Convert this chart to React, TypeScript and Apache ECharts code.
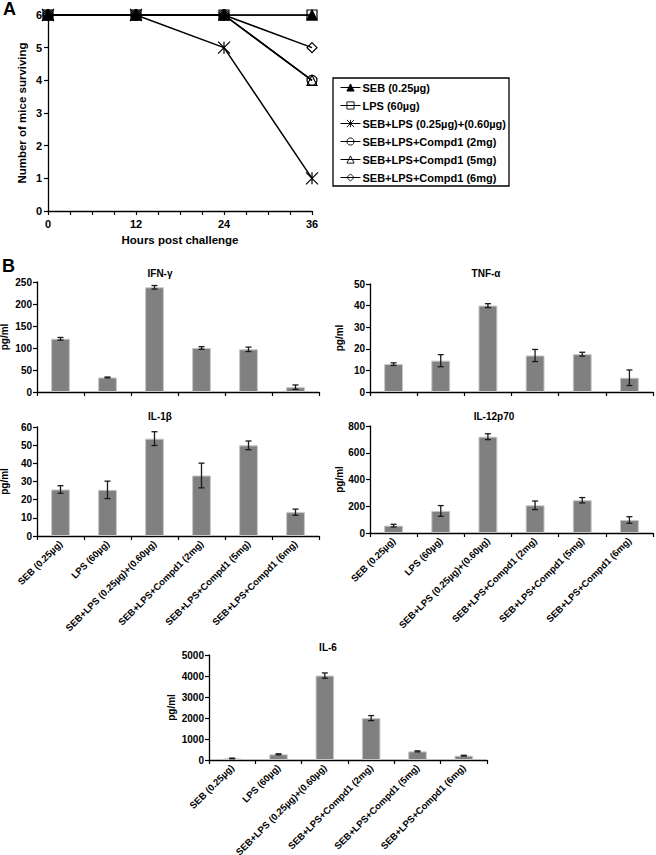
import React, { useEffect, useRef } from "react";
import * as echarts from "echarts";

const FONT = "'Liberation Sans', Arial, sans-serif";

// Panel A: survival
const hours = [0, 12, 24, 36];
const survSEB = [6, 6, 6, 6];
const survLPS = [6, 6, 6, 6];
const survSEBLPS = [6, 6, 5, 1];
const surv2mg = [6, 6, 6, 4];
const surv5mg = [6, 6, 6, 4];
const surv6mg = [6, 6, 6, 5];

const groups = [
  "SEB (0.25µg)",
  "LPS (60µg)",
  "SEB+LPS (0.25µg)+(0.60µg)",
  "SEB+LPS+Compd1 (2mg)",
  "SEB+LPS+Compd1 (5mg)",
  "SEB+LPS+Compd1 (6mg)",
];

// Panel B: cytokines (mean, error)
const ifn = [121, 33, 238, 100, 97, 11];
const ifnErr = [3, 1, 4, 3, 5, 5];
const tnf = [12.9, 14.5, 40, 16.9, 17.5, 6.6];
const tnfErr = [0.6, 2.8, 0.9, 2.8, 0.9, 3.6];
const il1b = [25.6, 25.4, 53.6, 33.3, 49.9, 13.1];
const il1bErr = [2.1, 4.8, 3.8, 6.8, 2.4, 1.7];
const il12 = [55, 165, 720, 207, 245, 97];
const il12Err = [10, 40, 22, 32, 20, 25];
const il6 = [75, 270, 4020, 1995, 410, 205];
const il6Err = [15, 25, 125, 120, 25, 20];

const yMaxes = [250, 50, 60, 800, 5000];
const yIntervals = [50, 10, 10, 200, 1000];
const titles = ["IFN-γ", "TNF-α", "IL-1β", "IL-12p70", "IL-6"];

export default function App() {
  const ref = useRef<HTMLDivElement>(null);
  useEffect(() => {
    const chart = echarts.init(ref.current!, null, { renderer: "svg" });

    const lineSpecs = [
      { name: groups[0], data: survSEB, symbol: "triangle", fill: "#000", size: 10 },
      { name: groups[1], data: survLPS, symbol: "rect", fill: "transparent", size: 10 },
      { name: groups[2], data: survSEBLPS, symbol: "path://M0,0L10,10M10,0L0,10M5,0L5,10", fill: "transparent", size: 12 },
      { name: groups[3], data: surv2mg, symbol: "circle", fill: "transparent", size: 10 },
      { name: groups[4], data: surv5mg, symbol: "triangle", fill: "transparent", size: 10 },
      { name: groups[5], data: surv6mg, symbol: "diamond", fill: "transparent", size: 10 },
    ];

    const barData = [
      [ifn, ifnErr],
      [tnf, tnfErr],
      [il1b, il1bErr],
      [il12, il12Err],
      [il6, il6Err],
    ];
    const barGrids = [
      { left: 37, top: 282, width: 282, height: 110 },
      { left: 370, top: 284, width: 283, height: 108 },
      { left: 37, top: 427, width: 282, height: 109 },
      { left: 370, top: 426, width: 283, height: 107 },
      { left: 209, top: 655, width: 278, height: 105 },
    ];
    const titlePos = [
      [160, 273],
      [486, 273],
      [160, 416],
      [494, 416],
      [328, 647],
    ];
    const showCat = [false, false, true, true, true];
    const nameGaps = [28, 26, 28, 26, 33];

    const grids: any[] = [
      { left: 48, top: 15, width: 264, height: 196, outerBoundsMode: "none" },
      ...barGrids.map((g) => ({ ...g, outerBoundsMode: "none" })),
    ];

    const axisLine = { show: true, lineStyle: { color: "#000", width: 1.3 } };
    const axisTick = { show: true, inside: false, length: 4, lineStyle: { color: "#000", width: 1.2 } };

    const xAxes: any[] = [
      {
        type: "value",
        gridIndex: 0,
        min: 0,
        max: 36,
        interval: 3,
        axisLine,
        axisTick,
        splitLine: { show: false },
        axisLabel: {
          formatter: (v: number) => (v % 12 === 0 ? String(v) : ""),
          fontFamily: FONT,
          fontWeight: "bold",
          fontSize: 11,
          color: "#000",
          margin: 7,
        },
        name: "Hours post challenge",
        nameLocation: "middle",
        nameGap: 23,
        nameTextStyle: { fontFamily: FONT, fontWeight: "bold", fontSize: 11.5, color: "#000" },
      },
      ...barGrids.map((_, i) => ({
        type: "category",
        gridIndex: i + 1,
        data: groups,
        axisLine,
        axisTick: { ...axisTick, alignWithLabel: false },
        axisLabel: {
          show: showCat[i],
          interval: 0,
          rotate: 45,
          fontFamily: FONT,
          fontWeight: "bold",
          fontSize: 9.5,
          color: "#000",
          margin: 6,
        },
      })),
    ];

    const yAxes: any[] = [
      {
        type: "value",
        gridIndex: 0,
        min: 0,
        max: 6,
        interval: 1,
        axisLine,
        axisTick,
        splitLine: { show: false },
        axisLabel: { fontFamily: FONT, fontWeight: "bold", fontSize: 11, color: "#000", margin: 6 },
        name: "Number of mice surviving",
        nameLocation: "middle",
        nameGap: 20,
        nameRotate: 90,
        nameTextStyle: { fontFamily: FONT, fontWeight: "bold", fontSize: 11.5, color: "#000" },
      },
      ...barGrids.map((_, i) => ({
        type: "value",
        gridIndex: i + 1,
        min: 0,
        max: yMaxes[i],
        interval: yIntervals[i],
        axisLine,
        axisTick,
        splitLine: { show: false },
        axisLabel: {
          fontFamily: FONT,
          fontWeight: "bold",
          fontSize: 10,
          color: "#000",
          margin: 5,
          formatter: (v: number) => String(v),
        },
        name: "pg/ml",
        nameLocation: "middle",
        nameGap: nameGaps[i],
        nameRotate: 90,
        nameTextStyle: { fontFamily: FONT, fontWeight: "bold", fontSize: 10, color: "#000" },
      })),
    ];

    const series: any[] = lineSpecs.map((s, k) => ({
      type: "line",
      name: s.name,
      xAxisIndex: 0,
      yAxisIndex: 0,
      data: hours.map((h, i) => [h, s.data[i]]),
      symbol: s.symbol,
      symbolSize: s.size,
      lineStyle: { color: "#000", width: 1.5 },
      itemStyle: { color: s.fill, borderColor: "#000", borderWidth: 1.2 },
      z: 2 + k,
    }));

    barData.forEach(([vals, errs], i) => {
      series.push({
        type: "bar",
        name: titles[i],
        xAxisIndex: i + 1,
        yAxisIndex: i + 1,
        data: vals,
        barWidth: "40%",
        itemStyle: { color: "#808080", borderColor: "#c6c6c6", borderWidth: 1 },
        z: 2,
      });
      series.push({
        type: "custom",
        name: titles[i] + " err",
        xAxisIndex: i + 1,
        yAxisIndex: i + 1,
        data: vals.map((v, j) => [j, v - errs[j], v + errs[j]]),
        encode: { x: 0, y: [1, 2] },
        z: 5,
        renderItem: (params: any, api: any) => {
          const x = api.value(0);
          const hi = api.coord([x, api.value(2)]);
          const lo = api.coord([x, api.value(1)]);
          const w = 3;
          const st = { stroke: "#1a1a1a", lineWidth: 1.3 };
          return {
            type: "group",
            children: [
              { type: "line", shape: { x1: hi[0], y1: hi[1], x2: lo[0], y2: lo[1] }, style: st },
              { type: "line", shape: { x1: hi[0] - w, y1: hi[1], x2: hi[0] + w, y2: hi[1] }, style: st },
              { type: "line", shape: { x1: lo[0] - w, y1: lo[1], x2: lo[0] + w, y2: lo[1] }, style: st },
            ],
          };
        },
      });
    });

    const graphics: any[] = [
      { type: "text", left: 3, top: 0, style: { text: "A", font: `bold 18px ${FONT}`, fill: "#000" } },
      { type: "text", left: 2, top: 257, style: { text: "B", font: `bold 18px ${FONT}`, fill: "#000" } },
      {
        type: "rect",
        shape: { x: 333, y: 78, width: 176, height: 108 },
        style: { fill: "none", stroke: "#000", lineWidth: 1.3 },
      },
      ...titles.map((t, i) => ({
        type: "text",
        x: titlePos[i][0],
        y: titlePos[i][1],
        style: {
          text: t,
          font: `bold 10px ${FONT}`,
          fill: "#000",
          textAlign: "center",
          textVerticalAlign: "middle",
        },
      })),
    ];

    chart.setOption({
      animation: false,
      backgroundColor: "#fff",
      grid: grids,
      xAxis: xAxes,
      yAxis: yAxes,
      legend: {
        orient: "vertical",
        left: 340,
        top: 82,
        padding: 0,
        itemWidth: 20,
        itemHeight: 9,
        itemGap: 7,
        selectedMode: false,
        data: groups,
        itemStyle: { borderWidth: 0.9 },
        lineStyle: { width: 1 },
        textStyle: { fontFamily: FONT, fontWeight: "bold", fontSize: 11, color: "#000", padding: [0, 0, 0, -3] },
      },
      graphic: graphics,
      series,
    });
    return () => chart.dispose();
  }, []);
  return (
    <div
      ref={ref}
      style={{ position: "absolute", left: 0, top: 0, width: 656, height: 855, background: "#fff" }}
    />
  );
}
